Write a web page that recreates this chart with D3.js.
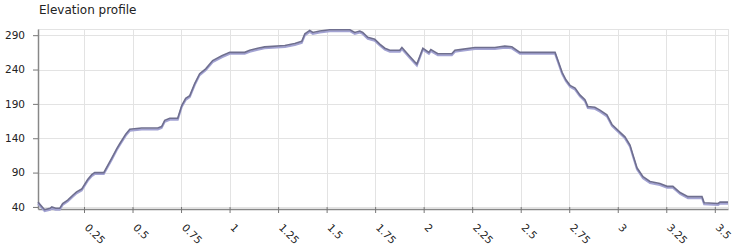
<!DOCTYPE html>
<html>
<head>
<meta charset="utf-8">
<script src="https://cdn.jsdelivr.net/npm/d3@7"></script>
<style>
  body { margin: 0; background: #fff; }
  svg { display: block; font-family: "DejaVu Sans", Verdana, sans-serif; }
</style>
</head>
<body>
<svg width="739" height="249"></svg>
<script>
(function () {

  // distance along the route (km) and elevation (m)
  const distance = [
    0.013, 0.047, 0.075, 0.084, 0.104, 0.125, 0.140, 0.166, 0.192, 0.212, 0.238, 0.269,
    0.290, 0.305, 0.352, 0.393, 0.419, 0.434, 0.465, 0.486, 0.547, 0.630, 0.650, 0.666,
    0.692, 0.733, 0.754, 0.774, 0.795, 0.821, 0.846, 0.877, 0.913, 0.960, 1.001, 1.078,
    1.104, 1.145, 1.181, 1.285, 1.336, 1.372, 1.388, 1.413, 1.429, 1.465, 1.516, 1.620,
    1.645, 1.671, 1.686, 1.712, 1.748, 1.774, 1.800, 1.826, 1.877, 1.888, 1.929, 1.955,
    1.965, 1.996, 2.027, 2.037, 2.073, 2.145, 2.161, 2.187, 2.264, 2.367, 2.418, 2.454,
    2.496, 2.677, 2.692, 2.713, 2.733, 2.754, 2.780, 2.805, 2.831, 2.846, 2.882, 2.908,
    2.944, 2.970, 3.011, 3.037, 3.063, 3.078, 3.099, 3.130, 3.166, 3.217, 3.254, 3.284,
    3.321, 3.362, 3.434, 3.445, 3.517, 3.527, 3.568
  ];
  const elevation = [
    47, 36, 38, 40, 38, 38, 45, 50, 57, 62, 66, 80,
    87, 90, 90, 111, 125, 132, 146, 153, 155, 155, 157, 166,
    169, 169, 188, 198, 202, 220, 234, 241, 253, 260, 265, 265,
    268, 271, 273, 275, 278, 281, 292, 297, 294, 296, 298, 298,
    294, 296, 294, 287, 284, 277, 271, 268, 268, 272, 259, 251,
    248, 271, 265, 269, 263, 263, 268, 269, 272, 272, 274, 273,
    265, 265, 253, 236, 225, 217, 213, 203, 196, 186, 185, 181,
    174, 160, 149, 142, 130, 116, 97, 84, 77, 74, 70, 70,
    61, 55, 55, 46, 45, 47, 47
  ];
  const yTicks = [40, 90, 140, 190, 240, 290];
  const xTicks = [0.25, 0.5, 0.75, 1, 1.25, 1.5, 1.75, 2, 2.25, 2.5, 2.75, 3, 3.25, 3.5];
  const title = "Elevation profile";

  const points = distance.map((d, i) => ({ d: d, e: elevation[i] }));

  const left = 38, right = 728, top = 29, bottom = 209;

  const x = d3.scaleLinear().domain([0.013, 3.568]).range([left, right]);
  const y = d3.scaleLinear().domain([37, 299]).range([bottom, top]);

  const svg = d3.select("svg");

  svg.append("text")
    .attr("x", 39)
    .attr("y", 14)
    .attr("font-size", 12)
    .attr("fill", "#222")
    .text(title);

  // grid
  const grid = svg.append("g").attr("stroke", "#e3e3e3").attr("stroke-width", 1);
  grid.selectAll(".gx").data(xTicks).enter().append("line")
    .attr("x1", d => Math.round(x(d)) + 0.5).attr("x2", d => Math.round(x(d)) + 0.5)
    .attr("y1", top).attr("y2", bottom);
  grid.selectAll(".gy").data(yTicks).enter().append("line")
    .attr("x1", left).attr("x2", right)
    .attr("y1", d => Math.round(y(d)) + 0.5).attr("y2", d => Math.round(y(d)) + 0.5);
  grid.append("line").attr("x1", left).attr("x2", right).attr("y1", top + 0.5).attr("y2", top + 0.5);
  grid.append("line").attr("x1", right + 0.5).attr("x2", right + 0.5).attr("y1", top).attr("y2", bottom);

  // axes
  const yAxis = d3.axisLeft(y).tickValues(yTicks).tickSize(5).tickSizeOuter(0).tickPadding(8);
  const gy = svg.append("g").attr("transform", `translate(${left},0)`).call(yAxis);
  gy.select(".domain").attr("stroke", "#888").attr("stroke-width", 1.5);
  gy.selectAll(".tick line").attr("stroke", "#777");
  gy.selectAll(".tick text").attr("font-size", 10.5).attr("fill", "#222")
    .attr("font-family", "DejaVu Sans, sans-serif");

  const xAxis = d3.axisBottom(x).tickValues(xTicks).tickSize(4).tickSizeOuter(0)
    .tickFormat(d => String(d));
  const gx = svg.append("g").attr("transform", `translate(0,${bottom})`).call(xAxis);
  gx.select(".domain").attr("stroke", "#888").attr("stroke-width", 1.5);
  gx.selectAll(".tick line").attr("stroke", "#777").attr("y1", -2);
  gx.selectAll(".tick text")
    .attr("font-size", 10.5).attr("fill", "#222")
    .attr("font-family", "DejaVu Sans, sans-serif")
    .attr("text-anchor", "start")
    .attr("dy", "0")
    .attr("transform", "translate(1,15) rotate(45)")
    .attr("y", 4).attr("x", 2);

  // line with soft shadow
  const line = d3.line().x(p => x(p.d)).y(p => y(p.e));
  svg.append("path").datum(points)
    .attr("d", line)
    .attr("fill", "none")
    .attr("stroke", "#a3a3d3")
    .attr("stroke-width", 2)
    .attr("transform", "translate(0,1.5)");
  svg.append("path").datum(points)
    .attr("d", line)
    .attr("fill", "none")
    .attr("stroke", "#6f6f8f")
    .attr("stroke-width", 1.6);
})();
</script>
</body>
</html>
